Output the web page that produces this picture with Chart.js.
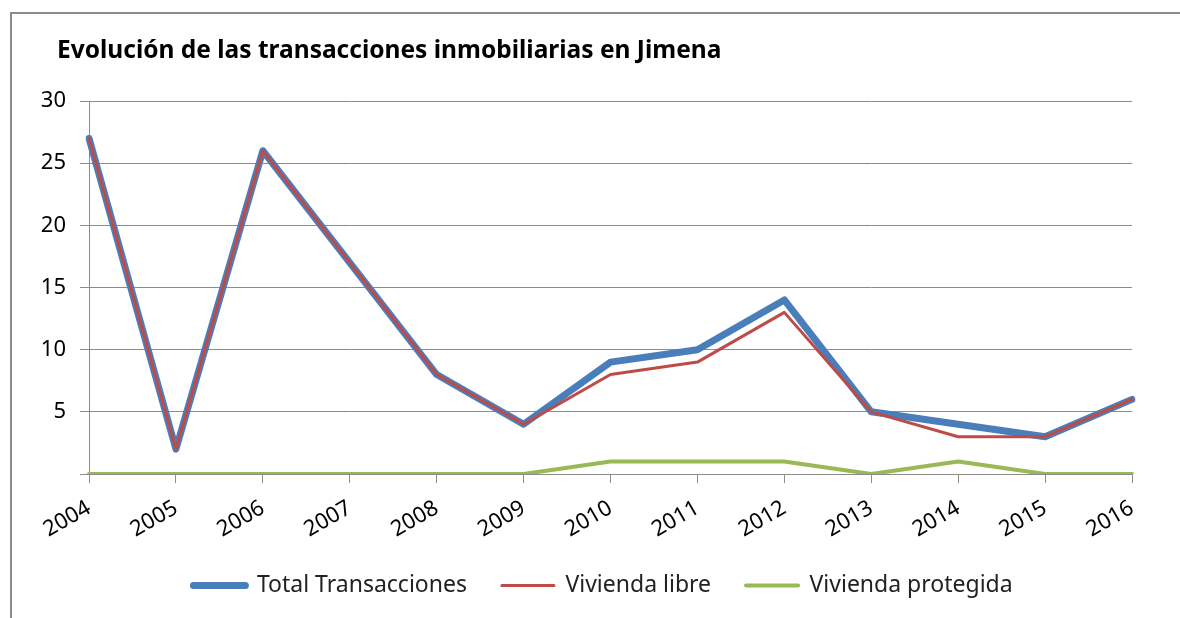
<!DOCTYPE html>
<html>
<head>
<meta charset="utf-8">
<script src="https://cdn.jsdelivr.net/npm/chart.js"></script>
<style>
  html, body { margin: 0; padding: 0; background: #fff; overflow: hidden; }
  #frame { position: absolute; left: 10px; top: 12px; width: 1300px; height: 700px; border: 2px solid #8c8c8c; box-sizing: border-box; }
  #wrap { position: absolute; left: 0; top: 0; width: 1180px; height: 618px; }
</style>
</head>
<body>
<div id="frame"></div>
<div id="wrap"><canvas id="chart"></canvas></div>
<script>
// datos
const years = ['2004', '2005', '2006', '2007', '2008', '2009', '2010', '2011', '2012', '2013', '2014', '2015', '2016'];
const totalTransacciones = [27, 2, 26, 17, 8, 4, 9, 10, 14, 5, 4, 3, 6];
const viviendaLibre = [27, 2, 26, 17, 8, 4, 8, 9, 13, 5, 3, 3, 6];
const viviendaProtegida = [0, 0, 0, 0, 0, 0, 1, 1, 1, 0, 1, 0, 0];
const yTicks = [0, 5, 10, 15, 20, 25, 30];
const chartTitle = 'Evolución de las transacciones inmobiliarias en Jimena';

const fontFamily = '"Noto Sans", "Open Sans", sans-serif';

// título dibujado a mano (el de Chart.js no deja moverlo en x)
const titlePlugin = {
    id: 'titleAt',
    afterDraw(chart) {
        const c = chart.ctx;
        c.save();
        c.font = 'bold 24.5px ' + fontFamily;
        c.fillStyle = '#000';
        c.textAlign = 'left';
        c.textBaseline = 'middle';
        c.fillText(chartTitle, 57, 51);
        c.restore();
    }
};

// mover la leyenda un poco a la derecha
const legendShift = {
    id: 'legendShift',
    afterLayout(chart) {
        chart.legend.left += 22;
        chart.legend.right += 22;
        chart.legend.top += 2;
        chart.legend.bottom += 2;
    }
};

const ctx = document.getElementById('chart').getContext('2d');
const myChart = new Chart(ctx, {
    type: 'line',
    data: {
        labels: years,
        datasets: [
            {
                label: 'Total Transacciones',
                data: totalTransacciones,
                borderColor: '#4a7ebb',
                borderWidth: 7,
                order: 3
            },
            {
                label: 'Vivienda libre',
                data: viviendaLibre,
                borderColor: '#be4b48',
                borderWidth: 3,
                order: 2
            },
            {
                label: 'Vivienda protegida',
                data: viviendaProtegida,
                borderColor: '#98b954',
                borderWidth: 4,
                order: 1
            }
        ]
    },
    plugins: [titlePlugin, legendShift],
    options: {
        responsive: true,
        maintainAspectRatio: false,
        animation: false,
        devicePixelRatio: 1,
        elements: {
            point: { radius: 0, hoverRadius: 0 },
            line: { tension: 0, borderJoinStyle: 'round', borderCapStyle: 'round' }
        },
        layout: { padding: { left: 30, right: 48, top: 101, bottom: 13 } },
        plugins: {
            tooltip: { enabled: false },
            title: { display: false },
            legend: {
                position: 'bottom',
                labels: {
                    color: '#222',
                    font: { family: fontFamily, size: 23 },
                    usePointStyle: true,
                    pointStyleWidth: 52,
                    padding: 35,
                    generateLabels: function(chart) {
                        return chart.data.datasets.map((ds, i) => ({
                            text: ds.label,
                            fillStyle: ds.borderColor,
                            strokeStyle: ds.borderColor,
                            lineWidth: ds.borderWidth,
                            lineCap: 'round',
                            pointStyle: 'line',
                            fontColor: '#222',
                            datasetIndex: i
                        }));
                    }
                }
            }
        },
        scales: {
            x: {
                offset: false,
                grid: { drawOnChartArea: false, drawTicks: true, tickLength: 9, color: '#8c8c8c' },
                border: { color: '#8c8c8c', width: 1 },
                ticks: {
                    color: '#000',
                    font: { family: fontFamily, size: 22 },
                    minRotation: 30,
                    maxRotation: 30,
                    padding: 12
                },
                afterFit: function(scale) { scale.height = 63; }
            },
            y: {
                min: 0,
                max: 30,
                afterBuildTicks: function(scale) {
                    scale.ticks = yTicks.map(v => ({ value: v }));
                },
                grid: { color: '#8c8c8c', tickLength: 9 },
                border: { color: '#8c8c8c', width: 1 },
                ticks: {
                    color: '#000',
                    font: { family: fontFamily, size: 22 },
                    padding: 14,
                    callback: function(value) { return value === 0 ? '' : value; }
                },
                afterFit: function(scale) { scale.width = 59; }
            }
        }
    }
});
</script>
</body>
</html>
